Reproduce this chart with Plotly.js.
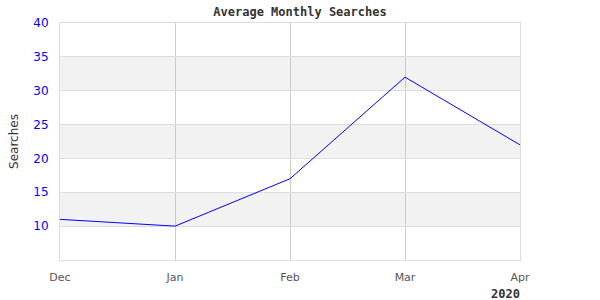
<!DOCTYPE html>
<html>
<head>
<meta charset="utf-8">
<script src="https://cdn.plot.ly/plotly-3.0.1.min.js"></script>
<style>html,body{margin:0;padding:0;background:#fff;}#chart{width:600px;height:300px;}</style>
</head>
<body>
<div id="chart"></div>
<script>
const months = ["Dec", "Jan", "Feb", "Mar", "Apr"];
const searches = [11, 10, 17, 32, 22];
const yTicks = [10, 15, 20, 25, 30, 35, 40];
const bandRanges = [[10, 15], [20, 25], [30, 35]];
const yearLabel = "2020";

const shapes = bandRanges.map(b => ({
  type: "rect", xref: "paper", yref: "y", x0: 0, x1: 1, y0: b[0], y1: b[1],
  fillcolor: "#f2f2f2", line: {width: 0}, layer: "below"
}));

Plotly.newPlot("chart", [{
  x: months, y: searches, type: "scatter", mode: "lines",
  line: {color: "#0000ff", width: 1}, hoverinfo: "none"
}], {
  width: 600, height: 300,
  margin: {l: 60, r: 80, t: 23, b: 40},
  paper_bgcolor: "#fff", plot_bgcolor: "#fff",
  showlegend: false,
  title: {text: "Average Monthly Searches", x: 0.5, xref: "container", y: 0.96, yref: "container", yanchor: "middle",
    font: {family: "DejaVu Sans Mono", size: 12, color: "#333", weight: "bold"}},
  xaxis: {
    type: "category", range: [0, 4], showgrid: true, gridcolor: "#cccccc", gridwidth: 1,
    showline: true, linecolor: "#dddddd", linewidth: 1, mirror: true, zeroline: false,
    ticks: "", ticklabelstandoff: 7,
    tickfont: {family: "DejaVu Sans", size: 11, color: "#555"}
  },
  yaxis: {
    range: [5, 40], tickvals: yTicks, showgrid: true, gridcolor: "#dddddd", gridwidth: 1,
    showline: true, linecolor: "#dddddd", linewidth: 1, mirror: true, zeroline: false,
    ticks: "", ticklabelstandoff: 8,
    tickfont: {family: "DejaVu Sans", size: 12, color: "#0000ff"},
    title: {text: "Searches", standoff: 12, font: {family: "DejaVu Sans", size: 12, color: "#333"}}
  },
  shapes: shapes,
  annotations: [{
    text: yearLabel, xref: "paper", yref: "paper", x: 1, y: 0, yshift: -34, xshift: -15,
    showarrow: false, xanchor: "center", yanchor: "middle",
    font: {family: "DejaVu Sans Mono", size: 12, color: "#333", weight: "bold"}
  }]
}, {displayModeBar: false, staticPlot: true});
</script>
</body>
</html>
